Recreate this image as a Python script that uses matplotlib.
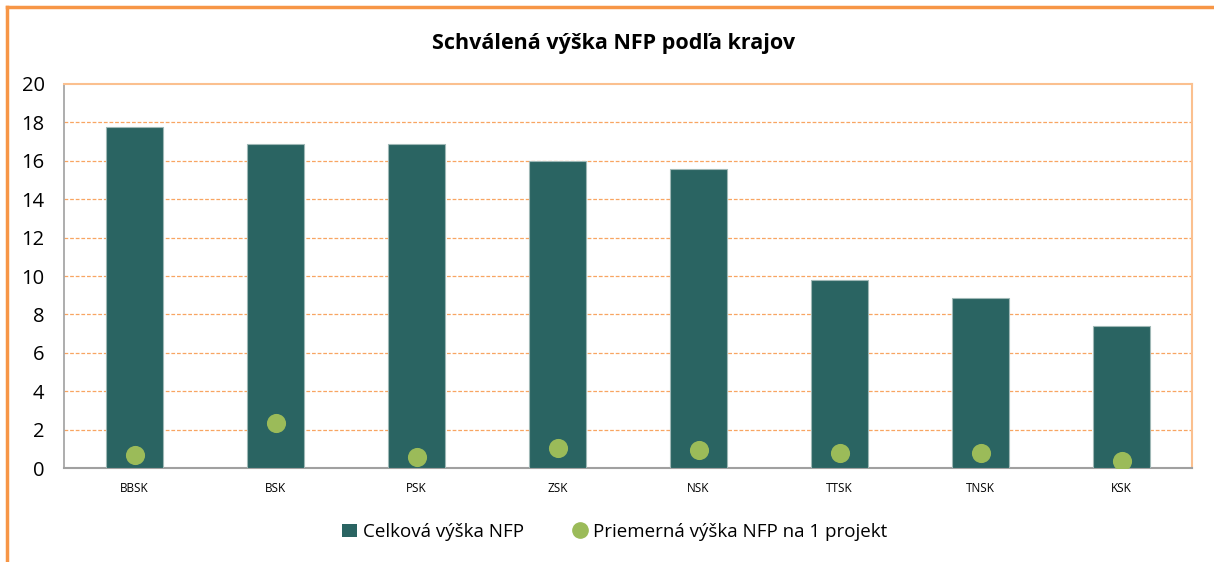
import numpy as np
import matplotlib
matplotlib.use('Agg')
import matplotlib.pyplot as plt
from matplotlib.lines import Line2D
from matplotlib.patches import Patch

# data
regions = ['BBSK', 'BSK', 'PSK', 'ZSK', 'NSK', 'TTSK', 'TNSK', 'KSK']
total_nfp = [17.76, 16.88, 16.88, 16.0, 15.57, 9.77, 8.88, 7.37]
avg_nfp = [0.68, 2.34, 0.57, 1.05, 0.94, 0.76, 0.76, 0.36]
yticks = [0, 2, 4, 6, 8, 10, 12, 14, 16, 18, 20]

title = 'Schválená výška NFP podľa krajov'
label_total = 'Celková výška NFP'
label_avg = 'Priemerná výška NFP na 1 projekt'

bar_color = '#2A6462'
dot_color = '#9BBB59'
orange = '#F79646'

plt.rcParams['font.family'] = ['Open Sans', 'DejaVu Sans']

fig = plt.figure(figsize=(12.14, 5.62), dpi=100)
ax = fig.add_axes([64/1214, 94/562, (1192-64)/1214, (468-84)/562])

x = np.arange(len(regions))
ax.bar(x, total_nfp, width=0.4, color=bar_color, edgecolor='#9FB8B6', linewidth=0.8, zorder=3)
ax.scatter(x, avg_nfp, s=190, color=dot_color, zorder=4, linewidths=0)

ax.set_xlim(-0.5, len(regions) - 0.5)
ax.set_ylim(0, 20)
ax.set_yticks(yticks)
ax.set_yticklabels([str(t) for t in yticks], fontsize=14.5)
ax.set_xticks(x)
ax.set_xticklabels(regions, fontsize=8.5)
ax.tick_params(axis='both', length=0)
ax.tick_params(axis='x', pad=10)
ax.tick_params(axis='y', pad=14)

# dashed orange gridlines
for t in yticks[1:-1]:
    ax.axhline(t, color=orange, lw=0.9, ls=(0, (3, 1.5)), alpha=0.85, zorder=1)

ax.spines['left'].set_color('#A0A0A0')
ax.spines['bottom'].set_color('#A0A0A0')
ax.spines['left'].set_linewidth(1.2)
ax.spines['bottom'].set_linewidth(1.5)
ax.spines['top'].set_color('#FBC08F')
ax.spines['right'].set_color('#FBC08F')
ax.spines['top'].set_linewidth(1.5)
ax.spines['right'].set_linewidth(1.5)

fig.text(614/1214, 1 - 43/562, title, ha='center', va='center', fontsize=15.5, fontweight='bold')

handles = [Patch(facecolor=bar_color, edgecolor='none'),
           Line2D([], [], marker='o', ls='none', color=dot_color, markersize=11)]
fig.legend(handles, [label_total, label_avg], loc='center', bbox_to_anchor=(615/1214, 1 - 532/562),
           ncol=2, frameon=False, fontsize=13.5, handlelength=0.8, handletextpad=0.3,
           columnspacing=2.6)

# outer chart frame (top and left edges visible)
fig.add_artist(Line2D([7/1214, 1], [1 - 7/562, 1 - 7/562], color=orange, lw=2.5))
fig.add_artist(Line2D([7/1214, 7/1214], [0, 1 - 7/562], color=orange, lw=2.5))

fig.savefig('out.png', dpi=100)
